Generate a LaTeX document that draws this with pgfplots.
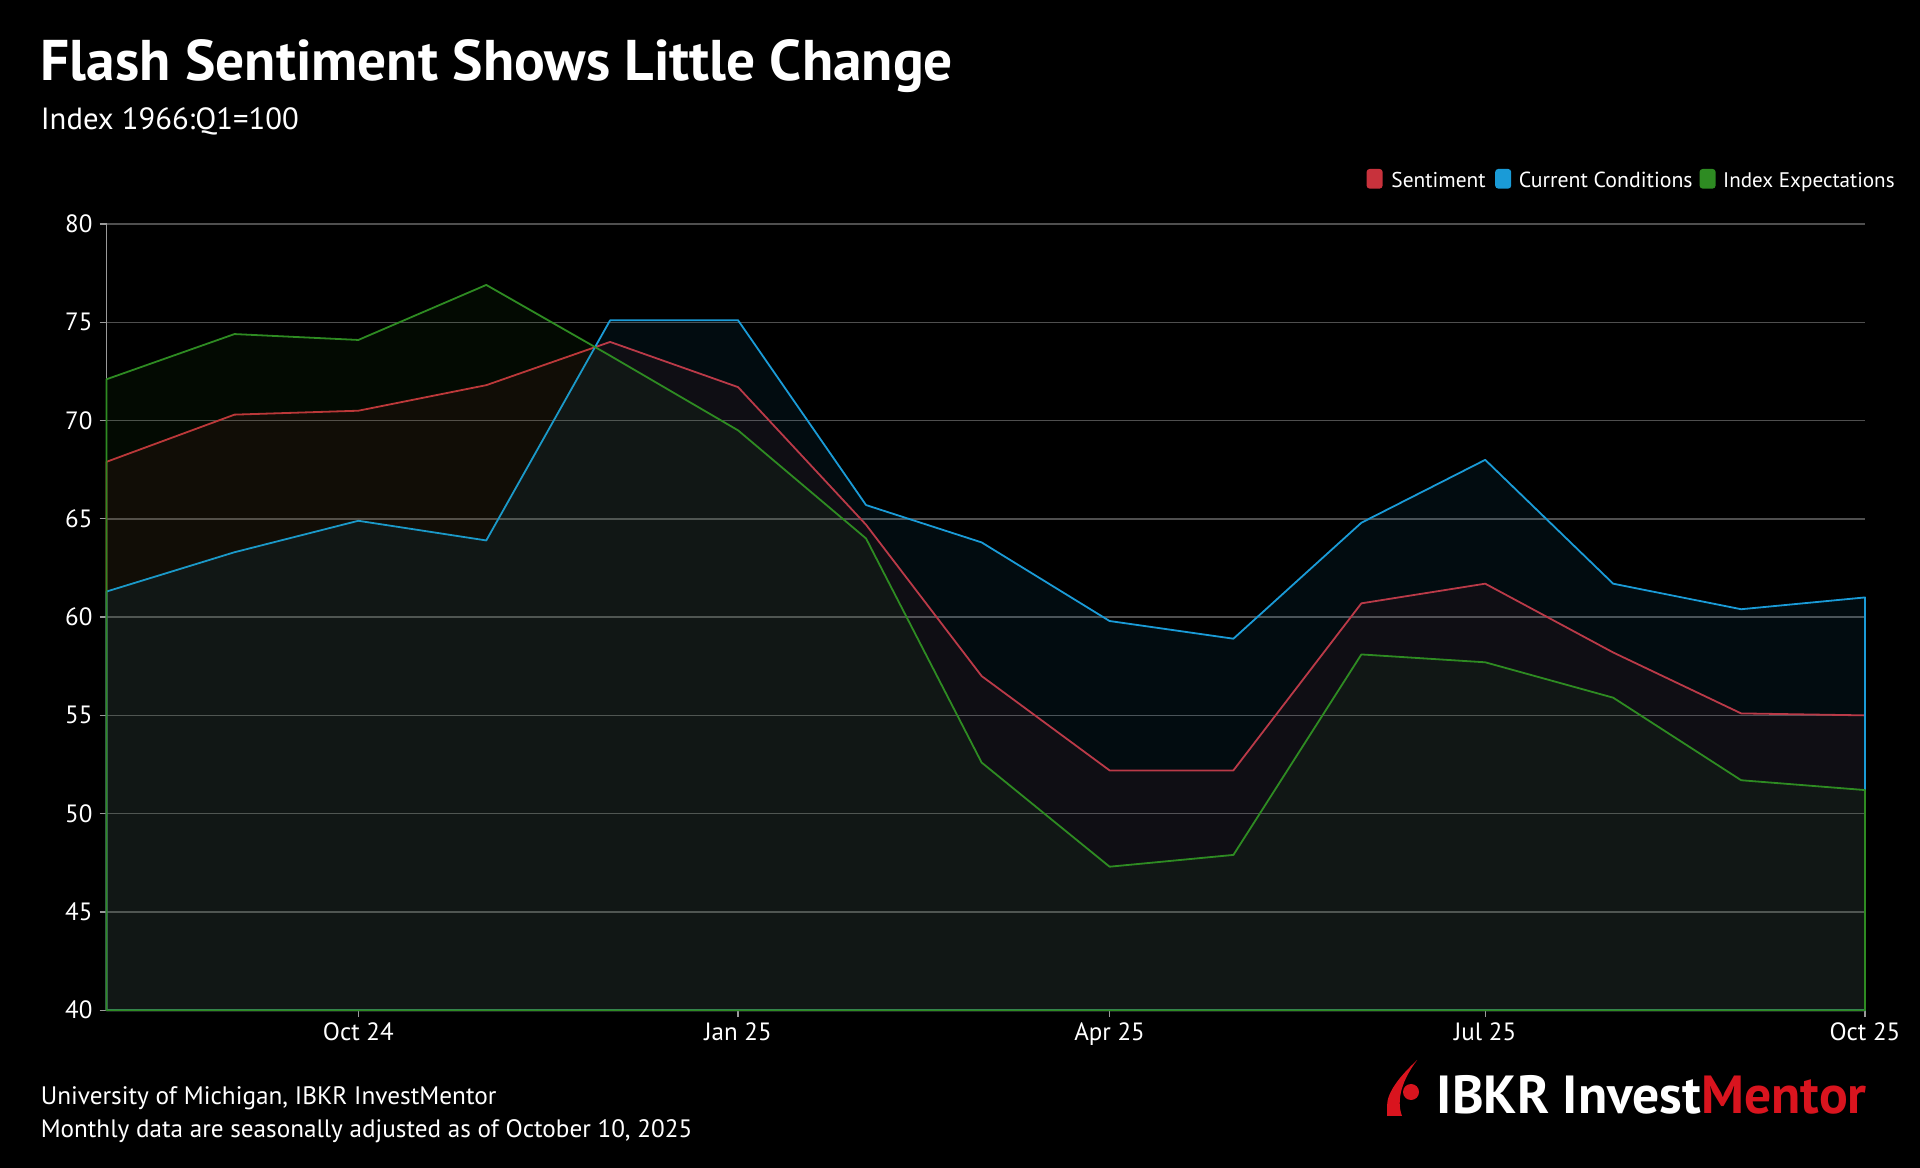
\documentclass[border=0pt]{standalone}
\usepackage{graphicx}
\usepackage{pgfplots}
\pgfplotsset{compat=1.18}
\usepackage{fontspec}
\setmainfont{PT Sans}
\definecolor{cred}{HTML}{C8323C}
\definecolor{cblue}{HTML}{1A9BD7}
\definecolor{cgreen}{HTML}{2E8B22}
\definecolor{gridc}{HTML}{4F4F4F}
\definecolor{axisc}{HTML}{9A9A9A}
\definecolor{mred}{HTML}{D9141E}
\begin{document}
\begin{tikzpicture}
\path[use as bounding box, fill=black] (0,0) rectangle (960bp,584bp);
\begin{axis}[
  at={(53.27bp,78.9bp)}, anchor=south west,
  scale only axis, width=879.2bp, height=393.1bp,
  xmin=0, xmax=426, ymin=40, ymax=80,
  clip=false,
  axis x line*=bottom, axis y line*=left,
  x axis line style={-, draw=axisc},
  y axis line style={-, draw=axisc},
  xtick={61,153,243,334,426},
  xticklabels={Oct 24, Jan 25, Apr 25, Jul 25, Oct 25},
  ytick={40,45,...,80},
  ymajorgrids, grid style={draw=gridc, line width=0.7bp},
  tick style={draw=axisc, line width=0.6bp},
  tick align=outside, major tick length=3.5bp,
  ticklabel style={font=\fontsize{12.5bp}{14bp}\selectfont, text=white},
  /pgf/number format/assume math mode=true,
  xticklabel style={yshift=1bp},
]
\addplot[draw=cred, line width=0.9bp, fill=cred, fill opacity=0.08, line join=round] coordinates {
(0,40) (0,67.9) (31,70.3) (61,70.5) (92,71.8) (122,74.0) (153,71.7) (184,64.7) (212,57.0) (243,52.2) (273,52.2) (304,60.7) (334,61.7) (365,58.2) (396,55.1) (426,55.0) (426,40)
} -- cycle;
\addplot[draw=cblue, line width=0.9bp, fill=cblue, fill opacity=0.08, line join=round] coordinates {
(0,40) (0,61.3) (31,63.3) (61,64.9) (92,63.9) (122,75.1) (153,75.1) (184,65.7) (212,63.8) (243,59.8) (273,58.9) (304,64.8) (334,68.0) (365,61.7) (396,60.4) (426,61.0) (426,40)
} -- cycle;
\addplot[draw=cgreen, line width=0.9bp, fill=cgreen, fill opacity=0.08, line join=round] coordinates {
(0,40) (0,72.1) (31,74.4) (61,74.1) (92,76.9) (122,73.3) (153,69.5) (184,64.0) (212,52.6) (243,47.3) (273,47.9) (304,58.1) (334,57.7) (365,55.9) (396,51.7) (426,51.2) (426,40)
} -- cycle;
\end{axis}
% Title and subtitle
\node[anchor=base west, inner sep=0, text=white] at (20.2bp,543.6bp) {\resizebox{456bp}{!}{\bfseries Flash Sentiment Shows Little Change}};
\node[anchor=base west, inner sep=0, text=white] at (20.2bp,519.1bp) {\resizebox{129bp}{!}{Index 1966:Q1=100}};
% Legend
\fill[cred, rounded corners=1.5bp] (683.3bp,489.7bp) rectangle (691.3bp,499.5bp);
\node[anchor=base west, inner sep=0, text=white] at (695.5bp,490.3bp) {\resizebox{47.1bp}{!}{Sentiment}};
\fill[cblue, rounded corners=1.5bp] (747.6bp,489.7bp) rectangle (755.6bp,499.5bp);
\node[anchor=base west, inner sep=0, text=white] at (759.2bp,490.3bp) {\resizebox{86.9bp}{!}{Current Conditions}};
\fill[cgreen, rounded corners=1.5bp] (849.8bp,489.7bp) rectangle (857.8bp,499.5bp);
\node[anchor=base west, inner sep=0, text=white] at (861.4bp,490.3bp) {\resizebox{85.7bp}{!}{Index Expectations}};
% Footer
\node[anchor=base west, inner sep=0, text=white] at (20.2bp,31.8bp) {\resizebox{227.8bp}{!}{University of Michigan, IBKR InvestMentor}};
\node[anchor=base west, inner sep=0, text=white] at (20.2bp,15.2bp) {\resizebox{325.7bp}{!}{Monthly data are seasonally adjusted as of October 10, 2025}};
% Logo
\fill[mred] (708.6bp,54bp) .. controls (700bp,46bp) and (693.5bp,38bp) .. (693.5bp,31bp) -- (693.5bp,26bp) -- (701bp,26bp) .. controls (698bp,34bp) and (701bp,44bp) .. (708.6bp,54bp) -- cycle;
\fill[mred] (705.5bp,38bp) circle (4bp);
\node[anchor=base west, inner sep=0] at (718.2bp,27.5bp) {\resizebox{214.9bp}{!}{\bfseries\textcolor{white}{IBKR Invest}\textcolor{mred}{Mentor}}};
\end{tikzpicture}
\end{document}
